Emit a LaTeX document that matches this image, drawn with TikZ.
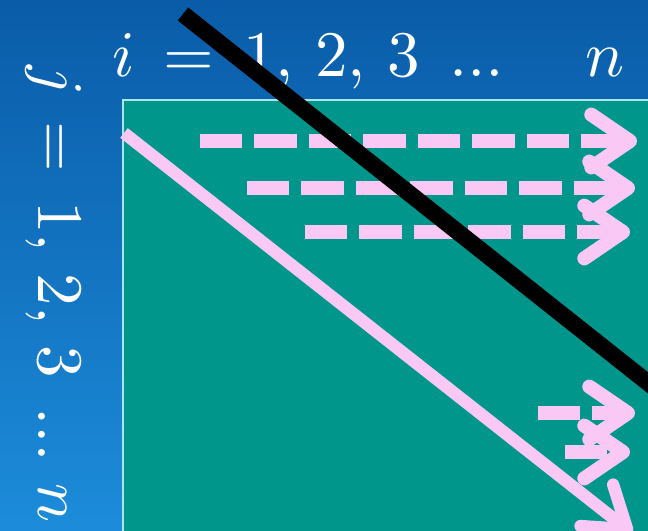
\documentclass[tikz,border=0pt]{standalone}
\usepackage{amsmath}
\usepackage{unicode-math}
\usetikzlibrary{arrows.meta}
\definecolor{slideblue}{RGB}{10,92,168}
\definecolor{slidebluelight}{RGB}{28,140,218}
\definecolor{matteal}{RGB}{0,150,140}
\definecolor{matframe}{RGB}{170,230,228}
\definecolor{looppink}{RGB}{250,200,245}

\begin{document}
\begin{tikzpicture}[x=0.02cm, y=-0.02cm,
    rowarrow/.style={looppink, line width=8pt, dash pattern=on 24pt off 7pt, -{Straight Barb[length=22pt, width=30pt, round]}},
    diagarrow/.style={looppink, line width=7pt, -{Straight Barb[length=22pt, width=30pt, round]}},
    cutline/.style={black, line width=9.5pt},
    idxlabel/.style={text=white, font=\fontsize{37}{40}\selectfont, inner sep=0pt}]
    \shade[top color=slideblue, bottom color=slidebluelight] (0,0) rectangle (648,530);
    \clip (0,0) rectangle (648,530);
    \draw[draw=matframe, fill=matteal, line width=1.2pt] (123,100) rectangle (670,560);

    \coordinate (dstart) at (124,133);
    \coordinate (dend) at (632,533);
    \draw[diagarrow] (dstart) -- (dend);

    \foreach \r/\xs/\xe [count=\k] in {141/200/637, 188/247/635, 232/305/630, 413/538/635, 452/565/630} {
        \coordinate (rs\k) at (\xs,\r);
        \coordinate (re\k) at (\xe,\r);
        \draw[rowarrow] (rs\k) -- (re\k);
    }

    \node[idxlabel, anchor=base west] (ilabel) at (112,77) {$i \,=\, 1,\, 2,\, 3 \;\ldots$};
    \node[idxlabel, anchor=base west] (nlabel) at (585,77) {$n$};
    \node[idxlabel, rotate=-90, anchor=base west] (jlabel) at (38,65) {$j \,=\, 1,\, 2,\, 3 \;\ldots\, n$};

    \coordinate (cutA) at (183,14);
    \coordinate (cutB) at (700,424);
    \draw[cutline] (cutA) -- (cutB);
\end{tikzpicture}
\end{document}
